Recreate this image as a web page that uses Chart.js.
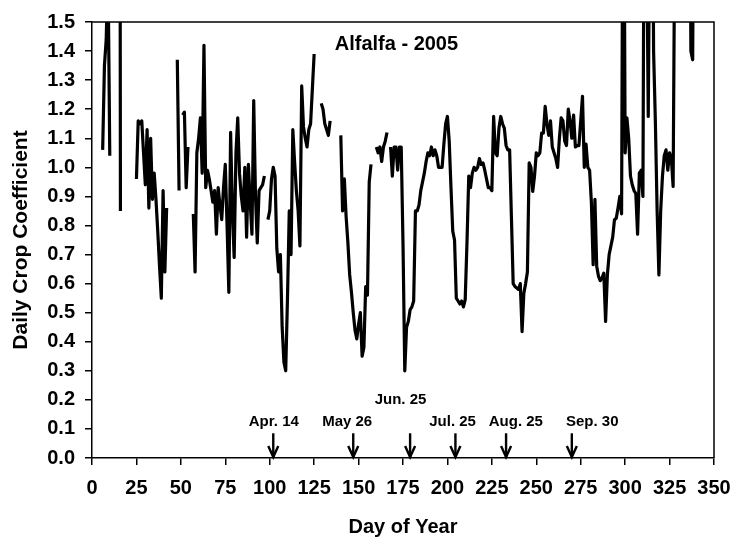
<!DOCTYPE html>
<html><head><meta charset="utf-8">
<script src="https://cdn.jsdelivr.net/npm/chart.js@4.4.0/dist/chart.umd.min.js"></script>
<style>html,body{margin:0;padding:0;background:#fff}#wrap{width:731px;height:537px;position:relative}</style>
</head><body><div id="wrap"><canvas id="c" width="731" height="537"></canvas></div>
<script>
// ---- data ----
const firstDay = 6;
// daily crop coefficient, day 6 .. day 339 (null = missing day)
const kc = [
  1.06, 1.35, 1.44, 1.70, 1.04,                                   // 6-10
  null, null, null, null, 6.0, 0.85, null, null, null, null,      // 11-20
  null, null, null, null, 0.96, 1.16, 1.15, 1.16, 1.05, 0.94,     // 21-30
  1.13, 0.86, 1.10, 0.89, 0.98, 0.89, 0.78, 0.66, 0.55, 0.92,     // 31-40
  0.64, 0.86, null, null, null, null, null, 1.37, 0.92, null,     // 41-50
  1.18, 1.19, 0.93, 1.07, null, null, 0.84, 0.64, 1.05, 1.10,     // 51-60
  1.17, 0.98, 1.42, 0.93, 0.99, 0.96, 0.92, 0.88, 0.92, 0.77,     // 61-70
  0.93, 0.87, 0.82, 0.93, 1.01, 0.80, 0.57, 1.12, 0.85, 0.69,     // 71-80
  1.05, 1.17, 0.98, 0.90, 0.85, 1.00, 0.76, 1.01, 0.88, 0.77,     // 81-90
  1.23, 0.90, 0.74, 0.92, 0.93, 0.94, 0.97, null, 0.82, 0.85,     // 91-100
  0.96, 1.00, 0.97, 0.72, 0.64, 0.70, 0.45, 0.33, 0.30, 0.55,     // 101-110
  0.85, 0.70, 1.13, 1.02, 0.92, 0.85, 0.73, 1.28, 1.14, 1.10,     // 111-120
  1.07, 1.13, 1.15, 1.27, 1.39, null, null, null, 1.22, 1.20,     // 121-130
  1.15, 1.13, 1.11, 1.16, null, null, null, null, null, 1.11,     // 131-140
  0.85, 0.96, 0.83, 0.74, 0.63, 0.57, 0.50, 0.44, 0.41, 0.46,     // 141-150
  0.50, 0.35, 0.38, 0.59, 0.56, 0.95, 1.01, null, null, 1.07,     // 151-160
  1.05, 1.07, 1.02, 1.07, 1.09, 1.12, null, 1.07, 0.97, 1.07,     // 161-170
  1.07, 0.99, 1.07, 1.07, 0.74, 0.30, 0.45, 0.47, 0.51, 0.52,     // 171-180
  0.54, 0.85, 0.85, 0.87, 0.92, 0.95, 0.98, 1.02, 1.05, 1.04,     // 181-190
  1.07, 1.04, 1.06, 1.04, 1.00, 1.00, 1.00, 1.08, 1.15, 1.175,    // 191-200
  1.09, 0.93, 0.78, 0.75, 0.55, 0.54, 0.53, 0.54, 0.52, 0.545,    // 201-210
  0.74, 0.97, 0.93, 0.98, 1.00, 0.99, 1.00, 1.03, 1.01, 1.015,    // 211-220
  0.99, 0.96, 0.93, 0.93, 0.92, 1.175, 1.05, 1.04, 1.135, 1.175,  // 221-230
  1.15, 1.135, 1.075, 1.06, 1.06, 0.83, 0.60, 0.59, 0.585, 0.58,  // 231-240
  0.60, 0.435, 0.567, 0.60, 0.64, 1.015, 1.00, 0.917, 0.97, 1.05, // 241-250
  1.04, 1.05, 1.118, 1.118, 1.21, 1.15, 1.11, 1.16, 1.07, 1.05,   // 251-260
  1.03, 1.00, 1.10, 1.17, 1.16, 1.09, 1.075, 1.20, 1.16, 1.10,    // 261-270
  1.18, 1.07, 1.075, 1.075, 1.16, 1.244, 1.00, 1.08, 1.00, 0.99,  // 271-280
  0.88, 0.665, 0.89, 0.66, 0.625, 0.61, 0.62, 0.636, 0.47, 0.63,  // 281-290
  0.70, 0.73, 0.76, 0.82, 0.825, 0.86, 0.90, 0.84, 2.5, 1.05,     // 291-300
  1.17, 1.10, 0.97, 0.94, 0.92, 0.91, 0.77, 0.98, 0.99, 0.90,     // 301-310
  2.5, 1.9, 1.175, 2.0, 2.5, 1.4, 1.16, 0.85, 0.63, 0.85,         // 311-320
  0.97, 1.04, 1.06, 0.99, 1.05, 1.03, 0.934, 1.9, null, null,     // 321-330
  null, null, null, null, null, 2.5, 1.40, 1.37, 2.5              // 331-339
];
const xTicks = [0, 25, 50, 75, 100, 125, 150, 175, 200, 225, 250, 275, 300, 325, 350];
const yTicks = [0.0, 0.1, 0.2, 0.3, 0.4, 0.5, 0.6, 0.7, 0.8, 0.9, 1.0, 1.1, 1.2, 1.3, 1.4, 1.5];
// harvest / event arrows (day of year) and their labels
const arrowDays   = [102, 147, 179, 204.5, 233, 270];
const arrowLabels = ['Apr. 14', 'May 26', 'Jun. 25', 'Jul. 25', 'Aug. 25', 'Sep. 30'];

// ---- annotation placement (data units) ----
const arrowLabelDay = [102.3, 143.6, 173.6, 202.9, 238.5, 281.5];
const arrowLabelKc  = [0.109, 0.109, 0.187, 0.109, 0.109, 0.109];
const arrowTopKc = 0.085;
const titleText = 'Alfalfa - 2005';
const titlePos = {day: 171.3, kc: 1.4225};

const FONT = "'Liberation Sans', Arial, Helvetica, sans-serif";
Chart.defaults.font.family = FONT;
Chart.defaults.color = '#000';

const points = kc.map((v, i) => ({x: firstDay + i, y: v}));

const annot = {
  id: 'annot',
  afterDatasetsDraw(chart) {
    const {ctx, chartArea: a, scales: {x, y}} = chart;
    ctx.save();
    // frame top & right
    ctx.strokeStyle = '#000';
    ctx.lineWidth = 1.5;
    ctx.beginPath();
    ctx.moveTo(a.left, a.top);
    ctx.lineTo(a.right, a.top);
    ctx.lineTo(a.right, a.bottom);
    ctx.stroke();
    // title
    ctx.fillStyle = '#000';
    ctx.font = "bold 20px " + FONT;
    ctx.textAlign = 'center';
    ctx.textBaseline = 'middle';
    ctx.fillText(titleText, x.getPixelForValue(titlePos.day), y.getPixelForValue(titlePos.kc));
    // arrows
    ctx.font = "bold 15px " + FONT;
    ctx.textBaseline = 'alphabetic';
    arrowDays.forEach((d, i) => {
      const px = x.getPixelForValue(d);
      const y0 = y.getPixelForValue(arrowTopKc);
      const y1 = y.getPixelForValue(0);
      ctx.lineWidth = 2.4;
      ctx.lineCap = 'butt';
      ctx.beginPath();
      ctx.moveTo(px, y0);
      ctx.lineTo(px, y1 - 1);
      ctx.stroke();
      ctx.beginPath();
      ctx.moveTo(px - 5, y1 - 12);
      ctx.lineTo(px, y1 - 1);
      ctx.lineTo(px + 5, y1 - 12);
      ctx.stroke();
      ctx.fillText(arrowLabels[i], x.getPixelForValue(arrowLabelDay[i]), y.getPixelForValue(arrowLabelKc[i]));
    });
    ctx.restore();
  }
};

new Chart(document.getElementById('c'), {
  type: 'line',
  data: {
    datasets: [{
      data: points,
      borderColor: '#000',
      borderWidth: 3.2,
      pointRadius: 0,
      tension: 0,
      spanGaps: false,
      fill: false,
      borderJoinStyle: 'round',
      borderCapStyle: 'butt'
    }]
  },
  options: {
    responsive: false,
    animation: false,
    devicePixelRatio: 1,
    layout: {padding: {top: 22, right: 17, left: 0, bottom: 0}},
    plugins: {legend: {display: false}, tooltip: {enabled: false}, title: {display: false}},
    scales: {
      x: {
        type: 'linear', min: 0, max: 350,
        afterBuildTicks: s => { s.ticks = xTicks.map(v => ({value: v})); },
        ticks: {color: '#000', font: {size: 20, weight: 'bold'}, padding: 11, maxRotation: 0, autoSkip: false,
                callback: v => String(v)},
        grid: {drawOnChartArea: false, drawTicks: true, tickLength: 7, color: '#000', lineWidth: 1.5},
        border: {color: '#000', width: 1.5},
        title: {display: true, text: 'Day of Year', color: '#000', font: {size: 20, weight: 'bold', lineHeight: 1}, padding: {top: 0, bottom: 0}},
        afterFit: s => { s.height = 79; s.paddingLeft = 0; s.paddingRight = 0; }
      },
      y: {
        min: 0, max: 1.5,
        afterBuildTicks: s => { s.ticks = yTicks.map(v => ({value: v})); },
        ticks: {color: '#000', font: {size: 20, weight: 'bold'}, padding: 10, autoSkip: false,
                callback: v => Number(v).toFixed(1)},
        grid: {drawOnChartArea: false, drawTicks: true, tickLength: 7, color: '#000', lineWidth: 1.5},
        border: {color: '#000', width: 1.5},
        title: {display: true, text: 'Daily Crop Coefficient', color: '#000', font: {size: 21, weight: 'bold', lineHeight: 1.2}, padding: {top: 9, bottom: 0}},
        afterFit: s => { s.width = 92; s.paddingTop = 0; s.paddingBottom = 0; }
      }
    }
  },
  plugins: [annot]
});
</script>
</body></html>
